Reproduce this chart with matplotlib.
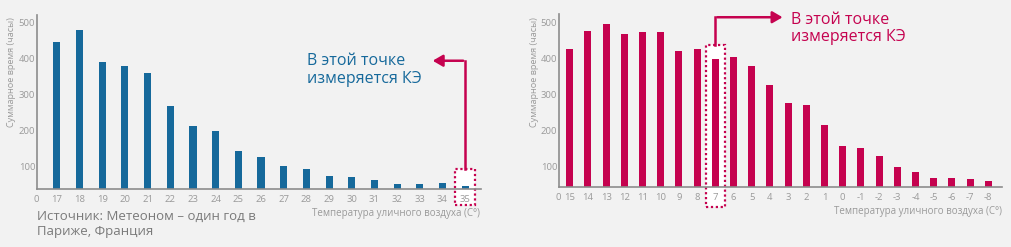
import numpy as np
import matplotlib.pyplot as plt
from matplotlib.patches import Rectangle

plt.rcParams['font.family'] = ['Open Sans', 'DejaVu Sans']

# left chart: Paris, summer temperatures
left_temps = ['17', '18', '19', '20', '21', '22', '23', '24', '25', '26',
              '27', '28', '29', '30', '31', '32', '33', '34', '35']
left_hours = [445, 480, 390, 379, 361, 267, 214, 199, 143, 127,
              103, 93, 74, 70, 63, 53, 53, 55, 46]

# right chart: winter temperatures
right_temps = ['15', '14', '13', '12', '11', '10', '9', '8', '7', '6', '5', '4',
               '3', '2', '1', '0', '-1', '-2', '-3', '-4', '-5', '-6', '-7', '-8']
right_hours = [426, 476, 497, 469, 473, 473, 421, 426, 400, 405, 379, 327,
               276, 271, 217, 157, 152, 129, 99, 85, 68, 68, 65, 60]

y_ticks = [100, 200, 300, 400, 500]

BG = '#f2f2f2'
BLUE = '#16699b'
RED = '#c5024f'
AXIS = '#8c8c8c'
TICK = '#9a9a9a'
W, H = 1011, 247


def px(x, y):
    return x / W, 1 - y / H


def draw_panel(fig, rect, cats, vals, color, width, xlim, ylim):
    ax = fig.add_axes(rect)
    ax.set_facecolor('none')
    x = np.arange(1, len(cats) + 1)
    ax.bar(x, vals, width=width, color=color, zorder=2)
    ax.set_xlim(*xlim)
    ax.set_ylim(*ylim)
    ax.set_xticks([xlim[0]] + list(x))
    ax.set_xticklabels(['0'] + cats)
    ax.set_yticks(y_ticks)
    for s in ['top', 'right']:
        ax.spines[s].set_visible(False)
    for s in ['left', 'bottom']:
        ax.spines[s].set_color(AXIS)
        ax.spines[s].set_linewidth(1.2)
    ax.tick_params(length=0, labelsize=6.8, labelcolor=TICK)
    ax.tick_params(axis='x', pad=4)
    ax.tick_params(axis='y', pad=1)
    return ax


def mark_bar(ax, i, val, pad, bottom, half, color):
    # dotted white box around the measured bar
    box = Rectangle((i - half, bottom), 2 * half, val + pad - bottom,
                    facecolor='white', edgecolor=color, linestyle=(0, (1, 1.2)),
                    linewidth=1.6, clip_on=False, zorder=1)
    ax.add_patch(box)
    return val + pad


fig = plt.figure(figsize=(W / 100, H / 100), dpi=100)
fig.patch.set_facecolor(BG)

# ---- left panel ----
l, b = px(36.7, 189.3)
ax1 = draw_panel(fig, [l, b, 444 / W, 174.3 / H], left_temps, left_hours,
                 BLUE, 0.31, (0.106, 19.69), (37, 521))
i35 = len(left_temps)
top = mark_bar(ax1, i35, left_hours[-1], 47, -7, 0.45, RED)
ax1.plot([i35, i35], [top, 394], color=RED, lw=1.8, clip_on=False, zorder=3)
ax1.annotate('', xy=(17.45, 394), xytext=(i35 + 0.04, 394),
             arrowprops=dict(arrowstyle='-|>,head_length=0.6,head_width=0.35',
                             color=RED, lw=1.8), annotation_clip=False)
fig.text(*px(307, 70), 'В этой точке\nизмеряется КЭ', color=BLUE, fontsize=11.5,
         ha='left', va='center', linespacing=1.15)
fig.text(*px(480.5, 213), 'Температура уличного воздуха (С°)', color=TICK,
         fontsize=7, ha='right', va='center')
fig.text(*px(12, 72), 'Суммарное время (часы)', color=TICK, fontsize=6.6,
         rotation=90, ha='center', va='center')
fig.text(*px(37, 224), 'Источник: Метеоном – один год в\nПариже, Франция',
         color='#7a7a7a', fontsize=9.5, ha='left', va='center', linespacing=1.15)

# ---- right panel ----
l, b = px(558.7, 187.3)
ax2 = draw_panel(fig, [l, b, 443 / W, 173.3 / H], right_temps, right_hours,
                 RED, 0.385, (0.396, 24.74), (43, 524))
i7 = right_temps.index('7') + 1
top = mark_bar(ax2, i7, right_hours[i7 - 1], 38, -13, 0.52, RED)
ax2.plot([i7, i7], [top, 515], color=RED, lw=1.8, clip_on=False, zorder=3)
ax2.annotate('', xy=(12.85, 515), xytext=(i7 - 0.04, 515),
             arrowprops=dict(arrowstyle='-|>,head_length=0.6,head_width=0.35',
                             color=RED, lw=1.8), annotation_clip=False)
fig.text(*px(790.7, 28.5), 'В этой точке\nизмеряется КЭ', color=RED, fontsize=11.5,
         ha='left', va='center', linespacing=1.15)
fig.text(*px(1002, 211.5), 'Температура уличного воздуха (С°)', color=TICK,
         fontsize=7, ha='right', va='center')
fig.text(*px(534.5, 72), 'Суммарное время (часы)', color=TICK, fontsize=6.6,
         rotation=90, ha='center', va='center')

fig.savefig('out.png', dpi=100, facecolor=BG)
